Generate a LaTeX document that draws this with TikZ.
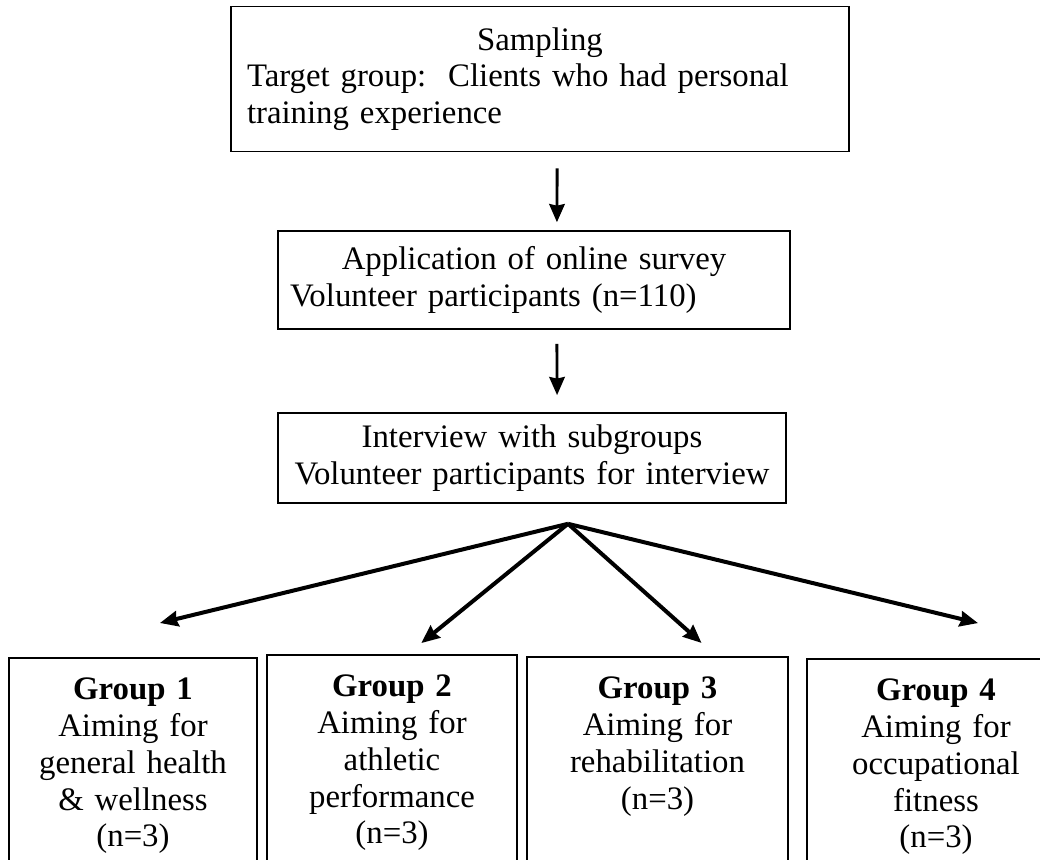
\documentclass[tikz,border=0pt]{standalone}
\usepackage{fontspec}
\setmainfont{Liberation Serif}
\usetikzlibrary{arrows.meta}

\begin{document}
\begin{tikzpicture}[x=0.375pt,y=-0.375pt,
  box/.style={draw,line width=0.6pt,inner sep=0pt,font=\fontsize{12.3}{13.8}\selectfont},
  grp/.style={box,anchor=north,align=center,inner ysep=7.6pt,text depth=70pt},
  arr/.style={-{Stealth[length=6.8pt,width=5.8pt,inset=0.6pt]},line width=1.1pt},
  fan/.style={arr,line width=1.5pt}]
\useasboundingbox (0,0) rectangle (1040,859);
\clip (0,0) rectangle (1040,859);

\node[box,minimum width=231.75pt,minimum height=54.4pt,text width=219.75pt] (sampling) at (540,79)
  {\centering Sampling\par\raggedright Target group:\ \ Clients who had personal\\training experience\par};
\node[box,minimum width=192pt,minimum height=36.75pt,text width=183pt] (survey) at (534,280)
  {{\centering Application of online survey\par}\noindent Volunteer participants (n=110)\par};
\node[box,minimum width=190.5pt,minimum height=33.75pt,text width=180pt,align=center] (interview) at (532,458)
  {Interview with subgroups\\Volunteer participants for interview\rule[-1.5pt]{0pt}{1pt}};

\node[grp,text width=93pt] (g1) at (133,657) {\textbf{Group 1}\\Aiming for\\general health\\\& wellness\\(n=3)};
\node[grp,text width=93.75pt] (g2) at (392,654) {\textbf{Group 2}\\Aiming for\\athletic\\performance\\(n=3)};
\node[grp,text width=97.9pt] (g3) at (657.5,656) {\textbf{Group 3}\\Aiming for\\rehabilitation\\(n=3)};
\node[grp,text width=96.75pt] (g4) at (936,658) {\textbf{Group 4}\\Aiming for\\occupational\\fitness\\(n=3)};

\draw[arr] ([xshift=6.4pt,yshift=-6pt]sampling.south) -- ([xshift=8.6pt,yshift=3pt]survey.north);
\draw[arr] ([xshift=8.6pt,yshift=-5.25pt]survey.south) -- ([xshift=9.4pt,yshift=6.4pt]interview.north);

\coordinate (fork) at ([xshift=13.5pt,yshift=-7.5pt]interview.south);
\foreach \g/\dx/\dy in {g1/10.1/12.75,g2/11/4.1,g3/16.5/4.9,g4/15.75/13.1}
  \draw[fan] (fork) -- ([xshift=\dx pt,yshift=\dy pt]\g.north);

\end{tikzpicture}
\end{document}
